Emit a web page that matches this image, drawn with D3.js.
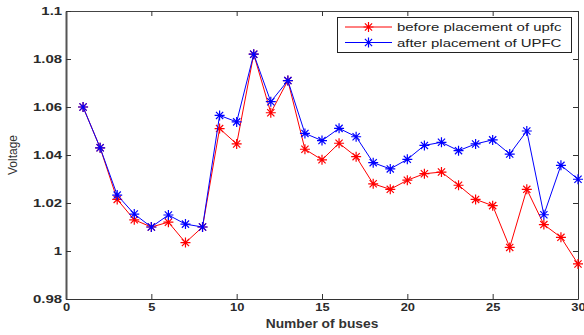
<!DOCTYPE html>
<html>
<head>
<meta charset="utf-8">
<script src="https://cdn.jsdelivr.net/npm/d3@7/dist/d3.min.js"></script>
<style>
  html, body { margin: 0; padding: 0; background: #fff; }
  svg { display: block; }
  text { font-family: "Liberation Sans", Arial, sans-serif; }
</style>
</head>
<body>
<svg id="chart" width="584" height="335"></svg>
<script>
// Bus numbers 1..30
const buses = [1,2,3,4,5,6,7,8,9,10,11,12,13,14,15,16,17,18,19,20,21,22,23,24,25,26,27,28,29,30];

// Bus voltage (p.u.) before UPFC placement
const voltageBefore = [1.060,1.043,1.0215,1.013,1.010,1.012,1.0035,1.010,1.051,1.0446,
                       1.082,1.0576,1.071,1.0424,1.038,1.0449,1.0393,1.028,1.0257,1.0295,
                       1.0322,1.0329,1.0274,1.0215,1.0189,1.0015,1.0257,1.011,1.0057,0.9946];

// Bus voltage (p.u.) after UPFC placement
const voltageAfter = [1.060,1.043,1.0233,1.0154,1.010,1.015,1.0112,1.010,1.0565,1.0538,
                      1.082,1.0622,1.071,1.049,1.046,1.0511,1.0476,1.0368,1.0342,1.0382,
                      1.044,1.0453,1.0418,1.0446,1.0463,1.0404,1.050,1.0151,1.0357,1.0299];

const xTicks = [0,5,10,15,20,25,30];
const yTicks = [0.98,1.00,1.02,1.04,1.06,1.08,1.10];
const yTickLabels = ["0.98","1","1.02","1.04","1.06","1.08","1.1"];

const seriesNames = ["before placement of upfc", "after placement of UPFC"];
const seriesColors = ["#ff0000", "#0000ff"];

const svg = d3.select("#chart");
const plotLeft = 66, plotRight = 578, plotTop = 11, plotBottom = 299;

const x = d3.scaleLinear().domain([0, 30]).range([plotLeft, plotRight]);
const y = d3.scaleLinear().domain([0.98, 1.10]).range([plotBottom, plotTop]);

// Tick labels are set in a wide, bold face
const tickFont = sx => g => g.selectAll("text")
  .attr("font-size", 11.5).attr("font-weight", "bold").attr("fill", "#2a2a2a")
  .attr("transform", `scale(${sx},1)`);

// Bottom axis with inward ticks
svg.append("g")
  .attr("transform", `translate(0,${plotBottom})`)
  .call(d3.axisBottom(x).tickValues(xTicks).tickSize(-5).tickPadding(4).tickSizeOuter(0))
  .call(g => g.select(".domain").attr("stroke", "#333"))
  .call(g => g.selectAll(".tick line").attr("stroke", "#333"))
  .call(tickFont(1.12));

// Top axis: ticks only
svg.append("g")
  .attr("transform", `translate(0,${plotTop})`)
  .call(d3.axisTop(x).tickValues(xTicks).tickSize(-5).tickFormat("").tickSizeOuter(0))
  .call(g => g.select(".domain").attr("stroke", "#444"))
  .call(g => g.selectAll(".tick line").attr("stroke", "#333"));

// Left axis with inward ticks
svg.append("g")
  .attr("transform", `translate(${plotLeft},0)`)
  .call(d3.axisLeft(y).tickValues(yTicks).tickSize(-5).tickPadding(3).tickSizeOuter(0)
    .tickFormat((d, i) => yTickLabels[i]))
  .call(g => g.select(".domain").attr("stroke", "#555").attr("stroke-width", 2))
  .call(g => g.selectAll(".tick line").attr("stroke", "#333"))
  .call(tickFont(1.3));

// Right axis: ticks only
svg.append("g")
  .attr("transform", `translate(${plotRight},0)`)
  .call(d3.axisRight(y).tickValues(yTicks).tickSize(-5).tickFormat("").tickSizeOuter(0))
  .call(g => g.select(".domain").attr("stroke", "#333"))
  .call(g => g.selectAll(".tick line").attr("stroke", "#333"));

// Axis titles
svg.append("text")
  .attr("transform", `translate(${(plotLeft + plotRight) / 2},328) scale(1.15,1)`)
  .attr("text-anchor", "middle")
  .attr("font-size", 12).attr("font-weight", "bold").attr("fill", "#333")
  .text("Number of buses");

svg.append("text")
  .attr("transform", `translate(17,${(plotTop + plotBottom) / 2}) rotate(-90)`)
  .attr("text-anchor", "middle")
  .attr("font-size", 12).attr("fill", "#333")
  .text("Voltage");

// Asterisk marker: plus combined with a cross
function asterisk(sel, r) {
  const d = r * 0.72;
  sel.append("path")
    .attr("d", `M${-r},0H${r}M0,${-r}V${r}M${-d},${-d}L${d},${d}M${-d},${d}L${d},${-d}`);
}

const line = d3.line().x((d, i) => x(buses[i])).y(d => y(d));
const series = [voltageBefore, voltageAfter];

series.forEach((vals, k) => {
  const g = svg.append("g");
  g.append("path")
    .datum(vals)
    .attr("d", line)
    .attr("fill", "none")
    .attr("stroke", seriesColors[k])
    .attr("stroke-width", 1);
  g.selectAll("g.mk")
    .data(vals)
    .join("g")
    .attr("class", "mk")
    .attr("transform", (d, i) => `translate(${x(buses[i])},${y(d)})`)
    .attr("stroke", seriesColors[k])
    .attr("stroke-width", 1.2)
    .each(function () { asterisk(d3.select(this), 5); });
});

// Legend
const lg = svg.append("g");
lg.append("rect")
  .attr("x", 337.5).attr("y", 17.5).attr("width", 234).attr("height", 35)
  .attr("fill", "#fff").attr("stroke", "#222").attr("stroke-width", 1);
seriesNames.forEach((name, k) => {
  const yy = 27 + k * 15.5;
  lg.append("line")
    .attr("x1", 345).attr("x2", 392).attr("y1", yy).attr("y2", yy)
    .attr("stroke", seriesColors[k]).attr("stroke-width", 1);
  const m = lg.append("g")
    .attr("transform", `translate(368.5,${yy})`)
    .attr("stroke", seriesColors[k]).attr("stroke-width", 1.2);
  asterisk(m, 5);
  lg.append("text")
    .attr("transform", `translate(397,${yy + 4}) scale(1.3,1)`)
    .attr("font-size", 11.5).attr("fill", "#222")
    .text(name);
});
</script>
</body>
</html>
